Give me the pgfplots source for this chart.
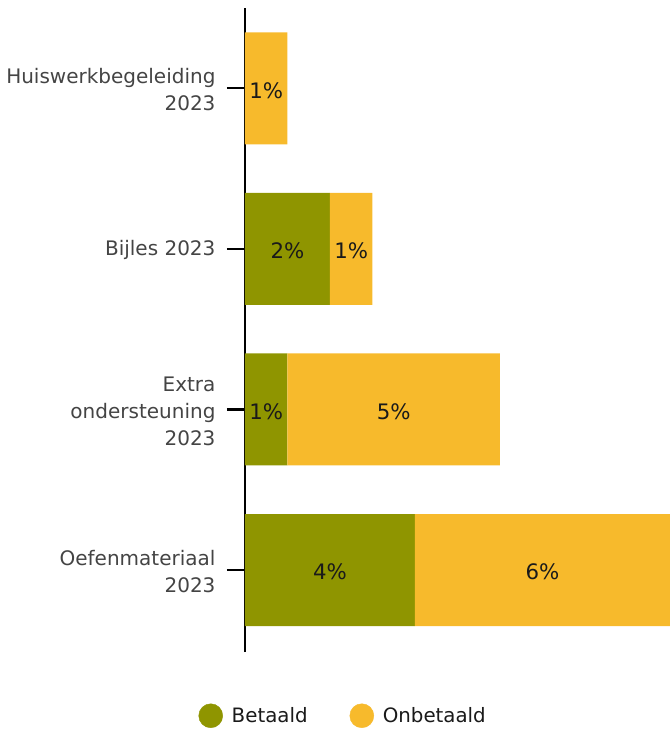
\documentclass[border=0pt]{standalone}
\usepackage{pgfplots}
\pgfplotsset{compat=1.18}
\usepackage{fontspec}
\setmainfont{DejaVu Sans}
\definecolor{betaald}{HTML}{8F9500}
\definecolor{onbetaald}{HTML}{F7BA2C}
\definecolor{labelgrey}{HTML}{444444}
\definecolor{darktext}{HTML}{1A1A1A}

\begin{document}
\begin{tikzpicture}
\begin{axis}[
    name=ax,
    width=425pt,
    height=644pt,
    scale only axis,
    xmin=0, xmax=10,
    ymin=-0.51, ymax=3.5,
    axis x line=none,
    axis y line*=left,
    axis line style={line width=2.2pt, black},
    ytick={0,1,2,3},
    yticklabels={{Oefenmateriaal\\2023},{Extra\\ondersteuning\\2023},{Bijles 2023},{Huiswerkbegeleiding\\2023}},
    tick align=outside,
    major tick length=18pt,
    ytick style={line width=2.2pt, black},
    yticklabel style={align=right, font=\fontsize{20}{27}\selectfont, text=labelgrey, xshift=-8pt, yshift=-1.5pt},
    legend columns=2,
    legend style={
        draw=none,
        at={(0.231,-0.099)},
        anchor=center,
        font=\fontsize{19.8}{24}\selectfont,
        text=darktext,
        /tikz/every even column/.append style={column sep=40pt},
    },
    clip=false,
]
\addplot[xbar stacked, bar width=112pt, fill=betaald, draw=none, forget plot] table[x=v, y=c] {
    v c
    0 3
    2 2
    1 1
    4 0
};
\addplot[xbar stacked, bar width=112pt, fill=onbetaald, draw=none, forget plot] table[x=v, y=c] {
    v c
    1 3
    1 2
    5 1
    6 0
};
\addplot[only marks, mark=none, forget plot,
    point meta=explicit symbolic,
    nodes near coords={\pgfplotspointmeta\%},
    every node near coord/.append style={font=\fontsize{21.3}{24}\selectfont, text=darktext, anchor=center, inner sep=0pt, yshift=-2pt},
] table[x=x, y=y, meta=l] {
    x y l
    0.5 3 1
    1 2 2
    2.5 2 1
    0.5 1 1
    3.5 1 5
    2 0 4
    7 0 6
};
\addlegendimage{legend image code/.code={\path[draw=none, fill=none] (0pt,0pt) -- (31pt,0pt); \fill[betaald] (12pt,0pt) circle (12pt);}}
\addlegendentry{Betaald}
\addlegendimage{legend image code/.code={\path[draw=none, fill=none] (0pt,0pt) -- (31pt,0pt); \fill[onbetaald] (12pt,0pt) circle (12pt);}}
\addlegendentry{Onbetaald}
\end{axis}
\pgfresetboundingbox
\path[use as bounding box] (ax.south west) ++(-245pt,-77pt) rectangle ([shift={(0pt,8pt)}]ax.north east);
\end{tikzpicture}
\end{document}
